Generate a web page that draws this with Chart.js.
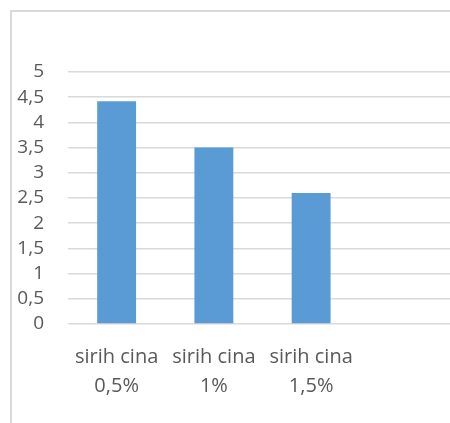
<!DOCTYPE html>
<html>
<head>
<meta charset="utf-8">
<script src="https://cdn.jsdelivr.net/npm/chart.js@4/dist/chart.umd.min.js"></script>
<style>
  html, body { margin: 0; padding: 0; background: #ffffff; overflow: hidden; width: 450px; height: 423px; }
  #frame {
    position: absolute; left: 10px; top: 10px;
    border-left: 2px solid #d9d9d9; border-top: 2px solid #d9d9d9;
    width: 438px; height: 411px; overflow: hidden; background: #ffffff;
  }
  #chart { display: block; }
</style>
</head>
<body>
<div id="frame"><canvas id="chart" width="450" height="411"></canvas></div>
<script>
// Categories (two-line labels) and the measured values
const categories = [['sirih cina', '0,5%'], ['sirih cina', '1%'], ['sirih cina', '1,5%'], ''];
const values = [4.42, 3.5, 2.6, null];
const yMin = 0;
const yMax = 5;
const yStep = 0.5;

const fontFamily = "'Open Sans', 'Noto Sans', sans-serif";
const textColor = '#595959';

new Chart(document.getElementById('chart'), {
  type: 'bar',
  data: {
    labels: categories,
    datasets: [{
      data: values,
      backgroundColor: '#5b9bd5',
      borderWidth: 0,
      barPercentage: 0.4,
      categoryPercentage: 1.0
    }]
  },
  options: {
    responsive: false,
    animation: false,
    layout: { padding: { top: 60, right: 5, bottom: 0, left: 0 } },
    plugins: { legend: { display: false }, tooltip: { enabled: false } },
    scales: {
      x: {
        grid: { display: false, drawTicks: false },
        border: { display: false },
        ticks: {
          color: textColor,
          font: { family: fontFamily, size: 20, lineHeight: 1.45 },
          padding: 19,
          maxRotation: 0,
          autoSkip: false
        },
        afterFit: (scale) => { scale.height = 99; }
      },
      y: {
        min: yMin,
        max: yMax,
        grid: { color: '#d9d9d9', lineWidth: 1.5, drawTicks: false },
        border: { display: false },
        ticks: {
          stepSize: yStep,
          autoSkip: false,
          color: textColor,
          font: { family: fontFamily, size: 19 },
          padding: 24,
          callback: (v) => String(v).replace('.', ',')
        },
        afterFit: (scale) => { scale.width = 56; }
      }
    }
  }
});
</script>
</body>
</html>
